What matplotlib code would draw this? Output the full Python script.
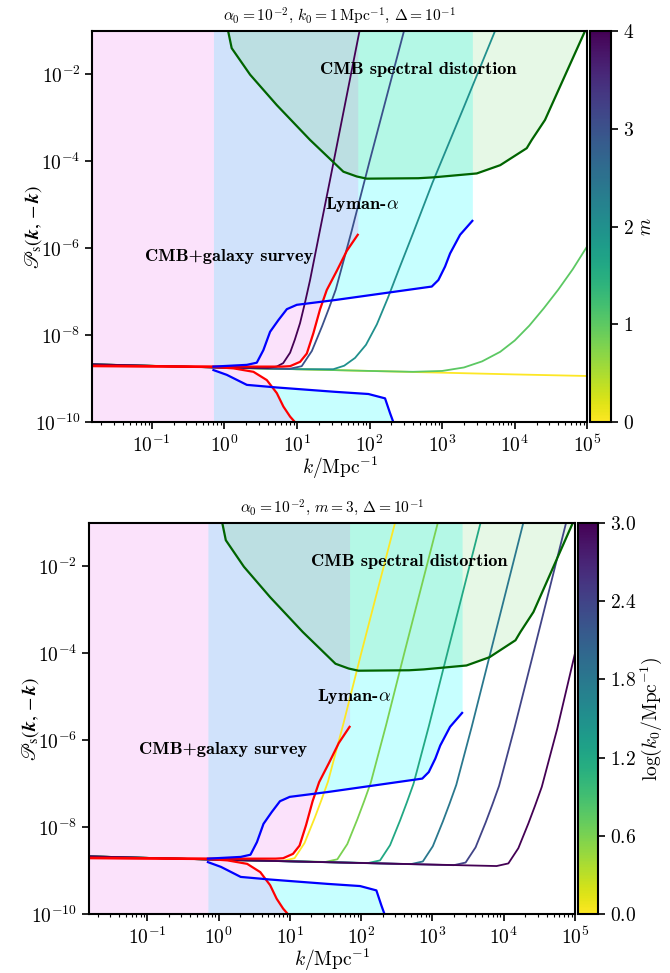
import numpy as np
import matplotlib
matplotlib.use('Agg')
import matplotlib.pyplot as plt
from matplotlib import colors
from matplotlib.ticker import FixedLocator, NullLocator, FuncFormatter, LogLocator, LogFormatterMathtext
import matplotlib.cm as mcm

plt.rcParams['mathtext.fontset'] = 'cm'
plt.rcParams['font.family'] = 'serif'
plt.rcParams['font.serif'] = ['cmr10', 'DejaVu Serif']
plt.rcParams['axes.formatter.use_mathtext'] = True

# ---------------- data (log10 k [Mpc^-1], log10 P) ----------------
red_up_logk = [-1.82, 0.0, 0.8, 0.905, 1.043, 1.135, 1.226, 1.318, 1.41, 1.548, 1.686, 1.837]
red_up_logP = [-8.70, -8.72, -8.72, -8.71, -8.61, -8.42, -7.95, -7.40, -6.96, -6.52, -6.06, -5.69]
red_low_logk = [-1.82, -0.151, 0.124, 0.4, 0.584, 0.722, 0.813, 0.905, 0.974]
red_low_logP = [-8.71, -8.73, -8.76, -8.84, -9.03, -9.33, -9.64, -9.87, -10.0]
blue_up_logk = [-0.151, 0.309, 0.446, 0.537, 0.629, 0.744, 0.86, 0.997, 1.525, 2.857, 2.948, 3.04, 3.109, 3.247, 3.416]
blue_up_logP = [-8.72, -8.68, -8.63, -8.34, -7.92, -7.65, -7.40, -7.30, -7.19, -6.88, -6.73, -6.42, -6.12, -5.69, -5.37]
blue_low_logk = [-0.151, 0.033, 0.309, 0.722, 1.525, 1.984, 2.213, 2.282, 2.328]
blue_low_logP = [-8.80, -8.91, -9.14, -9.20, -9.30, -9.35, -9.45, -9.79, -10.0]
green_logk = [0.05, 0.10, 0.354, 0.722, 1.18, 1.639, 1.824, 1.961, 2.672, 2.879, 3.477, 3.80, 4.165, 4.234, 4.417, 4.97]
green_logP = [-1.0, -1.40, -2.01, -2.71, -3.51, -4.24, -4.35, -4.40, -4.39, -4.37, -4.28, -4.09, -3.70, -3.51, -3.05, -1.0]

# top panel: k0 = 1 Mpc^-1, varying m
m_values = [0, 1, 2, 3, 4]
m_logk = [
    [-1.82, -1, 0, 1, 2, 3, 4, 5],
    [-1.82, 0, 1, 2, 2.6, 3.0, 3.3, 3.55, 3.8, 4.0, 4.2, 4.4, 4.6, 4.8, 5.0],
    [-1.82, 0, 1.0, 1.5, 1.65, 1.8, 1.95, 2.1, 2.25, 2.4, 2.6, 2.865, 3.3, 3.73],
    [-1.82, 0, 0.9, 1.065, 1.205, 1.346, 1.44, 1.534, 1.75, 2.0, 2.475],
    [-1.82, 0, 0.6, 0.72, 0.81, 0.905, 0.97, 1.042, 1.11, 1.18, 1.317, 1.455, 1.862],
]
m_logP = [
    [-8.667, -8.70, -8.745, -8.78, -8.82, -8.86, -8.90, -8.936],
    [-8.667, -8.745, -8.78, -8.82, -8.84, -8.82, -8.74, -8.60, -8.38, -8.12, -7.78, -7.38, -6.95, -6.48, -5.95],
    [-8.667, -8.745, -8.78, -8.78, -8.70, -8.52, -8.22, -7.75, -7.15, -6.50, -5.65, -4.50, -2.75, -1.0],
    [-8.667, -8.745, -8.77, -8.71, -8.36, -7.79, -7.38, -6.95, -5.62, -4.0, -1.0],
    [-8.667, -8.745, -8.75, -8.72, -8.64, -8.40, -8.10, -7.72, -7.25, -6.73, -5.58, -4.43, -1.0],
]

# bottom panel: m = 3, varying log10(k0)
k0_values = [0.0, 0.6, 1.2, 1.8, 2.4, 3.0]
k0_logk = [
    [-1.82, 0, 0.9, 1.065, 1.205, 1.346, 1.44, 1.534, 1.75, 2.0, 2.475],
    [-1.82, 0, 1.5, 1.665, 1.805, 1.946, 2.04, 2.134, 2.35, 2.6, 3.075],
    [-1.82, 0, 2.1, 2.265, 2.405, 2.546, 2.64, 2.734, 2.95, 3.2, 3.675],
    [-1.82, 0, 2.7, 2.865, 3.005, 3.146, 3.24, 3.334, 3.55, 3.8, 4.275],
    [-1.82, 0, 3.3, 3.465, 3.605, 3.746, 3.84, 3.934, 4.15, 4.4, 4.875],
    [-1.82, 0, 3.9, 4.065, 4.205, 4.346, 4.44, 4.534, 4.75, 5.0],
]
k0_logP = [
    [-8.667, -8.745, -8.77, -8.71, -8.36, -7.79, -7.38, -6.95, -5.62, -4.0, -1.0],
    [-8.667, -8.745, -8.795, -8.735, -8.385, -7.815, -7.405, -6.975, -5.645, -4.025, -1.0],
    [-8.667, -8.745, -8.82, -8.76, -8.41, -7.84, -7.43, -7.0, -5.67, -4.05, -1.0],
    [-8.667, -8.745, -8.845, -8.785, -8.435, -7.865, -7.455, -7.025, -5.695, -4.075, -1.0],
    [-8.667, -8.745, -8.87, -8.81, -8.46, -7.89, -7.48, -7.05, -5.72, -4.10, -1.0],
    [-8.667, -8.745, -8.89, -8.83, -8.48, -7.91, -7.50, -7.07, -5.74, -4.0],
]

region_labels = ["CMB spectral distortion", r"Lyman-$\alpha$", "CMB+galaxy survey"]
label_logk = [2.675, 1.893, 0.065]
label_logP = [-1.90, -5.0, -6.20]

XMIN, XMAX = 10**-1.82, 1e5
YMIN, YMAX = 1e-10, 1e-1


def p(a):
    return 10 ** np.asarray(a)


fig = plt.figure(figsize=(6.7, 9.73), dpi=100)


def panel(ax, cax, vals, logks, logPs, vmin, vmax, cbticks, cbfmt, cblabel, title):
    cmap = plt.get_cmap('viridis_r')
    norm = colors.Normalize(vmin=vmin, vmax=vmax)
    top = 1.0
    # shaded regions
    ax.fill_between(p(blue_up_logk), p(blue_up_logP), top, color='cyan', alpha=0.22, lw=0)
    ax.fill_between(p(blue_low_logk), 1e-12, p(blue_low_logP), color='cyan', alpha=0.22, lw=0)
    ax.fill_between(p(red_up_logk), p(red_up_logP), top, color='violet', alpha=0.23, lw=0)
    ax.fill_between(p(red_low_logk), 1e-12, p(red_low_logP), color='violet', alpha=0.23, lw=0)
    ax.fill_between(p(green_logk), p(green_logP), top, color='limegreen', alpha=0.12, lw=0)
    # model curves
    for v, lk, lp in zip(vals, logks, logPs):
        ax.plot(p(lk), p(lp), color=cmap(norm(v)), lw=1.3)
    # constraint curves
    ax.plot(p(red_up_logk), p(red_up_logP), color='red', lw=1.6)
    ax.plot(p(red_low_logk), p(red_low_logP), color='red', lw=1.6)
    ax.plot(p(blue_up_logk), p(blue_up_logP), color='blue', lw=1.6)
    ax.plot(p(blue_low_logk), p(blue_low_logP), color='blue', lw=1.6)
    ax.plot(p(green_logk), p(green_logP), color='darkgreen', lw=1.6)
    # region labels
    for t, lk, lp in zip(region_labels, label_logk, label_logP):
        ax.text(10**lk, 10**lp, t, family='cmb10', fontsize=13.2, ha='center', va='center')

    ax.set_xscale('log')
    ax.set_yscale('log')
    ax.set_xlim(XMIN, XMAX)
    ax.set_ylim(YMIN, YMAX)
    ax.xaxis.set_major_locator(FixedLocator([1e-1, 1, 1e1, 1e2, 1e3, 1e4, 1e5]))
    ax.xaxis.set_minor_locator(LogLocator(base=10, subs=np.arange(2, 10), numticks=30))
    ax.yaxis.set_major_locator(FixedLocator([1e-10, 1e-8, 1e-6, 1e-4, 1e-2]))
    ax.yaxis.set_minor_locator(NullLocator())
    ax.xaxis.set_major_formatter(LogFormatterMathtext())
    ax.yaxis.set_major_formatter(LogFormatterMathtext())
    ax.tick_params(which='major', length=5, width=1.2, labelsize=14, direction='out')
    ax.tick_params(which='minor', length=2.5, width=0.8, direction='out')
    ax.tick_params(axis='x', pad=4)
    for s in ax.spines.values():
        s.set_linewidth(1.5)
    ax.set_xlabel(r'$k/\mathrm{Mpc}^{-1}$', fontsize=14, labelpad=-1)
    ax.set_ylabel(r'$\mathscr{P}_{\rm s}(\mathbfit{k},-\mathbfit{k})$', fontsize=14, labelpad=-7,
                  math_fontfamily='stix')
    ax.set_title(title, fontsize=11.2, pad=7)

    sm = mcm.ScalarMappable(norm=norm, cmap=cmap)
    cb = fig.colorbar(sm, cax=cax)
    cb.set_ticks(cbticks)
    cb.ax.yaxis.set_major_formatter(FuncFormatter(cbfmt))
    cb.ax.tick_params(labelsize=14, length=5, width=1.2)
    cb.outline.set_linewidth(1.5)
    cb.set_label(cblabel, fontsize=14, labelpad=2)


ax1 = fig.add_axes([0.1378, 0.5660, 0.7388, 0.4024])
cax1 = fig.add_axes([0.8806, 0.5660, 0.0313, 0.4024])
panel(ax1, cax1, m_values, m_logk, m_logP, 0, 4, [0, 1, 2, 3, 4],
      lambda v, pos: f'${v:g}$', r'$m$',
      r'$\alpha_0=10^{-2},\, k_0=1\,\mathrm{Mpc}^{-1},\, \Delta=10^{-1}$')

ax2 = fig.add_axes([0.1328, 0.0603, 0.7254, 0.4024])
cax2 = fig.add_axes([0.8627, 0.0603, 0.0298, 0.4024])
panel(ax2, cax2, k0_values, k0_logk, k0_logP, 0, 3, [0, 0.6, 1.2, 1.8, 2.4, 3.0],
      lambda v, pos: f'${v:.1f}$', r'$\log(k_0/\mathrm{Mpc}^{-1})$',
      r'$\alpha_0=10^{-2},\, m=3,\, \Delta=10^{-1}$')

fig.savefig('out.png', dpi=100)
